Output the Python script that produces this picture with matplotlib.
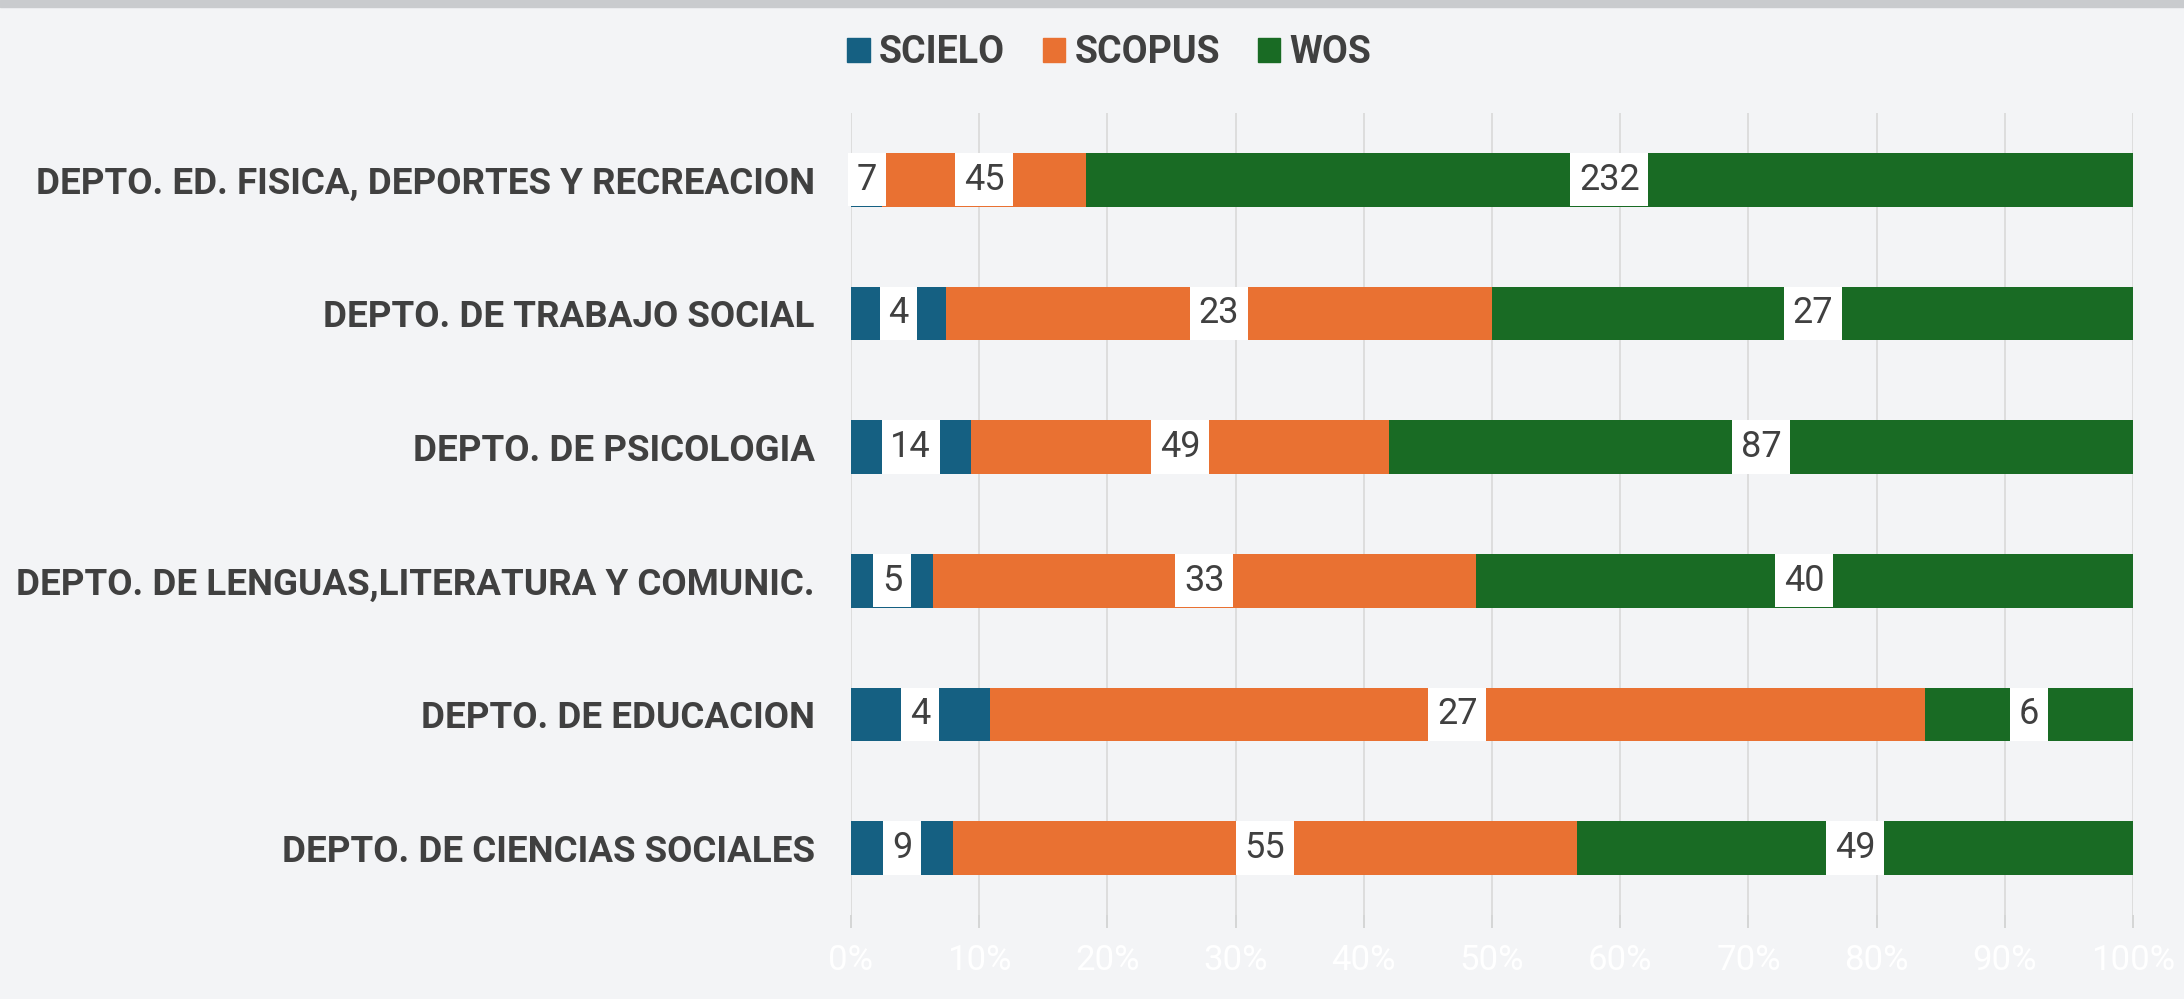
import matplotlib.pyplot as plt
import numpy as np
from matplotlib.patches import Patch, Rectangle

departments = [
    "DEPTO. ED. FISICA, DEPORTES Y RECREACION",
    "DEPTO. DE TRABAJO SOCIAL",
    "DEPTO. DE PSICOLOGIA",
    "DEPTO. DE LENGUAS,LITERATURA Y COMUNIC.",
    "DEPTO. DE EDUCACION",
    "DEPTO. DE CIENCIAS SOCIALES",
]
scielo = [7, 4, 14, 5, 4, 9]
scopus = [45, 23, 49, 33, 27, 55]
wos = [232, 27, 87, 40, 6, 49]
series_names = ["SCIELO", "SCOPUS", "WOS"]
colors = ["#156082", "#E97132", "#196B24"]
x_ticks = [0, 10, 20, 30, 40, 50, 60, 70, 80, 90, 100]

fonts = ["Roboto", "DejaVu Sans"]
text_col = "#404040"

if __name__ == "__main__":
    fig = plt.figure(figsize=(21.84, 9.99), dpi=100, facecolor="#f3f4f6")
    # thin darker strip at the very top (edge of the background photo)
    fig.patches.append(Rectangle((0, 0.993), 1, 0.007, transform=fig.transFigure,
                                 color="#c9cbce", zorder=0))

    ax = fig.add_axes([0.3896, 0.0841, 0.5871, 0.8028])
    ax.set_facecolor("none")

    data = np.array([scielo, scopus, wos], dtype=float)
    totals = data.sum(axis=0)
    pct = data / totals * 100
    y = np.arange(len(departments))

    left = np.zeros(len(departments))
    for i, name in enumerate(series_names):
        ax.barh(y, pct[i], left=left, height=0.4, color=colors[i], zorder=2)
        for j in range(len(departments)):
            ax.text(left[j] + pct[i][j] / 2, y[j], str(int(data[i][j])),
                    ha="center", va="center", fontsize=26, color=text_col,
                    family=fonts, zorder=4,
                    bbox=dict(boxstyle="square,pad=0.24", fc="white", ec="none"))
        left += pct[i]

    ax.set_xlim(0, 100)
    ax.set_ylim(len(departments) - 0.5, -0.5)
    ax.set_xticks(x_ticks)
    ax.set_xticklabels([f"{t}%" for t in x_ticks], color="white",
                       fontsize=25, family=fonts)
    ax.tick_params(axis="x", length=9, color="#d0d0d0", width=1.2, pad=12)
    ax.grid(axis="x", color="#d9d9d9", linewidth=1.2, zorder=0)
    ax.set_yticks(y)
    ax.set_yticklabels(departments, fontsize=26.5, fontweight="bold",
                       color=text_col, family=fonts)
    ax.tick_params(axis="y", length=0, pad=26)
    for s in ax.spines.values():
        s.set_visible(False)

    handles = [Patch(color=c, label=n) for c, n in zip(colors, series_names)]
    fig.legend(handles=handles, loc="center", bbox_to_anchor=(0.508, 0.947),
               ncol=3, frameon=False, handlelength=0.6, handleheight=0.6,
               handletextpad=0.25, columnspacing=1.0,
               prop={"family": "Roboto", "weight": "bold", "size": 27},
               labelcolor=text_col)

    fig.savefig("out.png", dpi=100, facecolor=fig.get_facecolor())
